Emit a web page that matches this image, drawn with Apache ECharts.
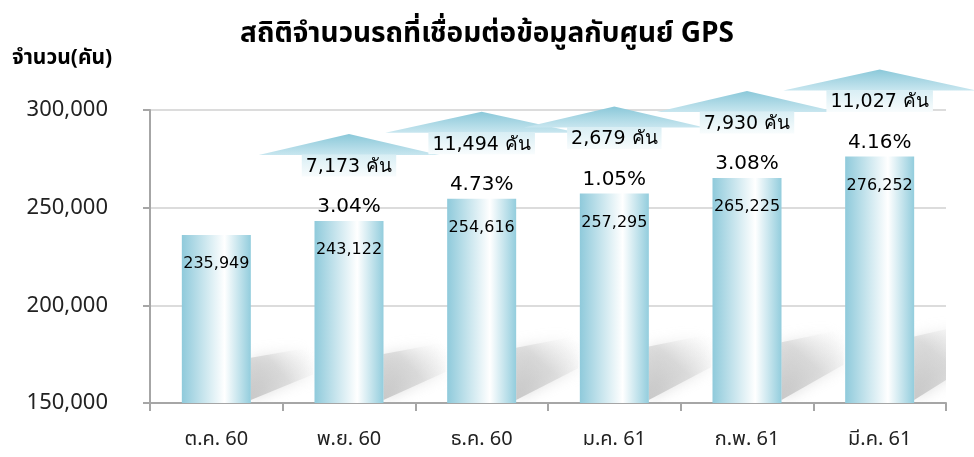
<!DOCTYPE html>
<html>
<head>
<meta charset="utf-8">
<script src="https://cdn.jsdelivr.net/npm/echarts@6/dist/echarts.min.js"></script>
<style>
  html, body { margin: 0; padding: 0; background: #fff; }
  #main { width: 974px; height: 457px; }
</style>
</head>
<body>
<div id="main"></div>
<script>
// ข้อมูล
var months = ['ต.ค. 60', 'พ.ย. 60', 'ธ.ค. 60', 'ม.ค. 61', 'ก.พ. 61', 'มี.ค. 61'];
var cars = [235949, 243122, 254616, 257295, 265225, 276252];
var added = [null, 7173, 11494, 2679, 7930, 11027];
var growth = [null, '3.04%', '4.73%', '1.05%', '3.08%', '4.16%'];
var yMin = 150000, yMax = 300000, yStep = 50000;

var thaiFont = "'Noto Sans Thai', 'Noto Sans', 'DejaVu Sans', sans-serif";
var numFont = "'DejaVu Sans', 'Noto Sans', sans-serif";

var measure = document.createElement('canvas').getContext('2d');
function textWidth(str, font) {
  measure.font = font;
  return measure.measureText(str).width;
}

var myChart = echarts.init(document.getElementById('main'));

var points = cars.map(function (v, i) { return [i, v]; });

var option = {
  animation: false,
  title: {
    text: 'สถิติจำนวนรถที่เชื่อมต่อข้อมูลกับศูนย์ GPS',
    left: 'center',
    top: 17,
    textStyle: { fontFamily: thaiFont, fontSize: 28, fontWeight: 'bold', color: '#000' }
  },
  grid: { left: 150, right: 28, top: 110, bottom: 54 },
  xAxis: {
    type: 'category',
    data: months,
    axisLine: { lineStyle: { color: '#a6a6a6', width: 2 } },
    axisTick: { show: true, length: 8, lineStyle: { color: '#a6a6a6', width: 2 } },
    axisLabel: { margin: 28, fontFamily: thaiFont, fontSize: 20, color: '#222' }
  },
  yAxis: {
    type: 'value',
    min: yMin,
    max: yMax,
    interval: yStep,
    name: 'จำนวน(คัน)',
    nameLocation: 'end',
    nameGap: 40,
    nameTextStyle: { fontFamily: thaiFont, fontSize: 21, fontWeight: 'bold', color: '#000', align: 'left', padding: [0, 0, 0, -138] },
    axisLine: { show: true, lineStyle: { color: '#a6a6a6', width: 2 } },
    axisTick: { show: true, length: 7, lineStyle: { color: '#a6a6a6', width: 2 } },
    axisLabel: {
      margin: 42,
      fontFamily: "'Noto Sans', sans-serif",
      fontSize: 22,
      color: '#222',
      formatter: function (v) { return v.toLocaleString('en-US'); }
    },
    splitLine: { lineStyle: { color: '#dcdcdc', width: 2 } }
  },
  series: [
    {
      // เงาด้านหลังแท่ง
      type: 'custom',
      clip: true,
      z: 1,
      data: points,
      renderItem: function (params, api) {
        var i = api.value(0), v = api.value(1);
        var base = api.coord([i, yMin]);
        var top = api.coord([i, v]);
        var bw = api.size([1, 0])[0] * 0.52;
        var r = base[0] + bw / 2;
        var h = base[1] - top[1];
        var y0 = base[1];
        return {
          type: 'polygon',
          shape: { points: [[r, y0 - 3], [r, y0 - h * 0.27], [r + 62, y0 - h * 0.31 - 4], [r + 62, y0 - h * 0.17]] },
          style: {
            fill: new echarts.graphic.LinearGradient(0, 1, 1, 0, [
              { offset: 0, color: 'rgba(185,185,185,0.75)' },
              { offset: 0.5, color: 'rgba(205,205,205,0.55)' },
              { offset: 1, color: 'rgba(255,255,255,0)' }
            ]),
            shadowBlur: 14,
            shadowColor: 'rgba(190,190,190,0.7)'
          }
        };
      }
    },
    {
      type: 'bar',
      z: 2,
      barWidth: 69,
      data: cars,
      itemStyle: {
        color: new echarts.graphic.LinearGradient(0, 0, 1, 0, [
          { offset: 0, color: '#8fcadb' },
          { offset: 0.62, color: '#ffffff' },
          { offset: 1, color: '#93cddd' }
        ])
      },
      label: {
        show: true,
        position: 'insideTop',
        distance: 21,
        fontFamily: numFont,
        fontSize: 16,
        color: '#000',
        formatter: function (p) { return p.value.toLocaleString('en-US'); }
      }
    },
    {
      // ลูกศรแสดงจำนวนที่เพิ่มขึ้น และ %
      type: 'custom',
      z: 3,
      data: points,
      renderItem: function (params, api) {
        var i = api.value(0), v = api.value(1);
        if (added[i] == null) return;
        var p = api.coord([i, v]);
        var x = p[0], top = p[1];
        var label = added[i].toLocaleString('en-US') + ' คัน';
        var tw = textWidth(label, '19px ' + numFont);
        var sh = tw / 2 + 4;
        var hh = sh + 43;
        var peak = top - 87, base = top - 66, bottom = top - 44;
        return {
          type: 'group',
          children: [
            {
              type: 'polygon',
              shape: { points: [[x - hh, base], [x, peak], [x + hh, base]] },
              style: {
                fill: new echarts.graphic.LinearGradient(0, 0, 0, 1, [
                  { offset: 0, color: '#8ac8d9' },
                  { offset: 1, color: '#c8e6ef' }
                ])
              }
            },
            {
              type: 'rect',
              shape: { x: x - sh, y: base - 0.5, width: sh * 2, height: bottom - base },
              style: {
                fill: new echarts.graphic.LinearGradient(0, 0, 0, 1, [
                  { offset: 0, color: '#d8eef4' },
                  { offset: 1, color: '#f8fcfd' }
                ])
              }
            },
            {
              type: 'text',
              style: {
                x: x, y: (base + bottom) / 2 + 1,
                text: label,
                align: 'center', verticalAlign: 'middle',
                font: '19px ' + numFont,
                fill: '#000'
              }
            },
            {
              type: 'text',
              style: {
                x: x, y: top - 14,
                text: growth[i],
                align: 'center', verticalAlign: 'middle',
                font: '20px ' + numFont,
                fill: '#000'
              }
            }
          ]
        };
      }
    }
  ]
};

myChart.setOption(option);
</script>
</body>
</html>
